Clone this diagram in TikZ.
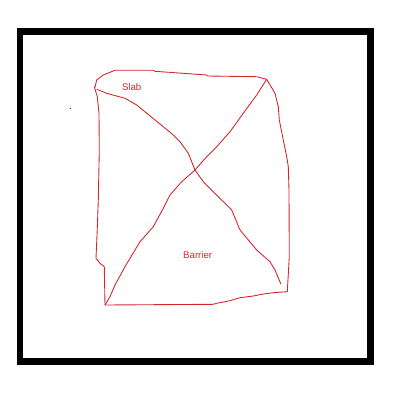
\documentclass[tikz,border=0pt]{standalone}
\usepackage{fontspec}
\setmainfont{Liberation Sans}
\usetikzlibrary{positioning}
\definecolor{sketchred}{RGB}{212,38,42}

\begin{document}
\begin{tikzpicture}[x=0.02cm, y=-0.02cm,
  frame/.style={draw=black, line width=0.14cm},
  sketch/.style={draw=sketchred, line width=0.5pt, line join=round},
  tag/.style={text=sketchred, font=\fontsize{5.5}{6.6}\selectfont, inner sep=0pt}]

  \useasboundingbox (0,0) rectangle (400,400);

  % Outer frame
  \draw[frame] (20,31) rectangle (370.5,361.5);
  \fill (70.3,108.3) circle (0.6);

  % Corners of the slab
  \coordinate (tl) at (96.7,89.3);
  \coordinate (tr) at (266.7,79.3);
  \coordinate (br) at (287.3,291.7);
  \coordinate (bl) at (105,305);
  \coordinate (cross) at (195,170);
  \coordinate (dend) at (281,284.3);

  % Outline
  \draw[sketch] (95,87.3) -- (96.7,80) -- (103.3,75) -- (115,70.3) -- (153.3,70.3)
    -- (155,71.3) -- (206.7,75) -- (208,76) -- (256.7,76.7) -- (tr)
    -- (275,93.3) -- (278.3,106.7) -- (279.3,120) -- (283.3,140) -- (286.7,156.7)
    -- (288.3,166.7) -- (289,190) -- (289.3,256.7) -- (br)
    -- (273.3,292.7) -- (263.3,294) -- (253.3,296) -- (240,297.7) -- (230,300.7)
    -- (216.7,303.3) -- (213.3,304.3) -- (bl)
    -- (104.3,266.7) -- (100,263.3) -- (96,258.3) -- (97.3,228.3) -- (98.3,200)
    -- (99.3,150) -- (99,113.3) -- (97.3,96.7) -- (94.3,86.7);

  % Diagonals
  \draw[sketch] (tl) -- (106.7,93.3) -- (125,98.3) -- (136.7,105) -- (163.3,126.7)
    -- (173.3,135) -- (180,141.7) -- (188.3,153.3) -- (cross) -- (203.3,181.7)
    -- (218.3,196.7) -- (231.7,210) -- (240,230) -- (256.7,250) -- (270,261.7)
    -- (275,270) -- (dend);
  \draw[sketch] (tr) -- (256.7,95) -- (243.3,113.3) -- (230,131.7) -- (216.7,146.7)
    -- (206.7,156.7) -- (cross) -- (181.7,181.7) -- (170,195) -- (163.3,208.3)
    -- (153.3,226.7) -- (140,241.7) -- (125,266.7) -- (115,285) -- (110,296.7) -- (bl);

  % Labels
  \node[tag] (slab) at (131.7,86.7) {Slab};
  \node[tag] (barrier) at (197.7,254.7) {Barrier};

\end{tikzpicture}
\end{document}
